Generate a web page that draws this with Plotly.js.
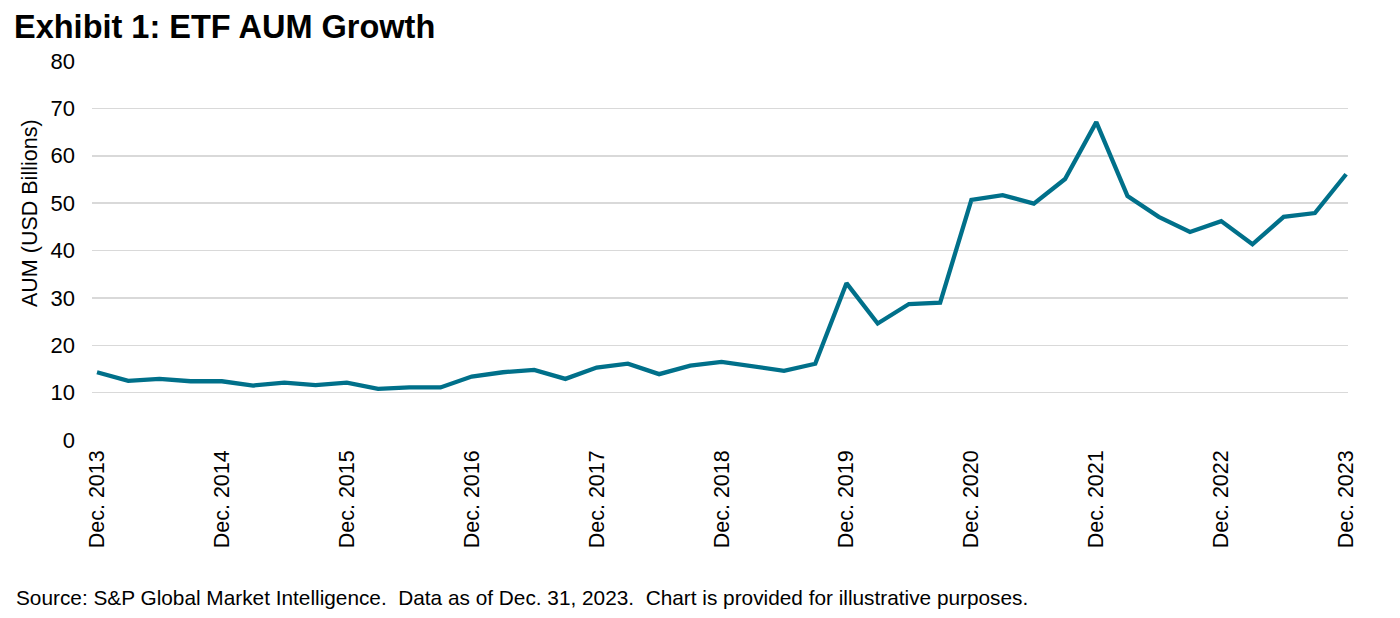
<!DOCTYPE html>
<html>
<head>
<meta charset="utf-8">
<script src="https://cdn.plot.ly/plotly-3.0.1.min.js"></script>
<style>
  html, body { margin: 0; padding: 0; background: #ffffff; }
  #chart { width: 1400px; height: 618px; }
</style>
</head>
<body>
<div id="chart"></div>
<script>
// Quarterly observation labels (Dec. 2013 through Dec. 2023)
const quarters = [
  "Dec. 2013","Mar. 2014","Jun. 2014","Sep. 2014",
  "Dec. 2014","Mar. 2015","Jun. 2015","Sep. 2015",
  "Dec. 2015","Mar. 2016","Jun. 2016","Sep. 2016",
  "Dec. 2016","Mar. 2017","Jun. 2017","Sep. 2017",
  "Dec. 2017","Mar. 2018","Jun. 2018","Sep. 2018",
  "Dec. 2018","Mar. 2019","Jun. 2019","Sep. 2019",
  "Dec. 2019","Mar. 2020","Jun. 2020","Sep. 2020",
  "Dec. 2020","Mar. 2021","Jun. 2021","Sep. 2021",
  "Dec. 2021","Mar. 2022","Jun. 2022","Sep. 2022",
  "Dec. 2022","Mar. 2023","Jun. 2023","Sep. 2023",
  "Dec. 2023"
];

// ETF AUM (USD billions)
const aum = [
  14.3, 12.5, 12.9, 12.4,
  12.4, 11.5, 12.1, 11.6,
  12.1, 10.8, 11.1, 11.1,
  13.4, 14.3, 14.8, 12.9,
  15.3, 16.1, 13.9, 15.7,
  16.5, 15.6, 14.6, 16.1,
  33.1, 24.6, 28.7, 29.0,
  50.7, 51.7, 49.9, 55.1,
  67.1, 51.5, 47.1, 43.9,
  46.2, 41.3, 47.1, 47.9,
  56.1
];

// Labelled ticks on the x axis
const xTickLabels = [
  "Dec. 2013","Dec. 2014","Dec. 2015","Dec. 2016","Dec. 2017",
  "Dec. 2018","Dec. 2019","Dec. 2020","Dec. 2021","Dec. 2022","Dec. 2023"
];

// Y axis ticks
const yTicks = [0, 10, 20, 30, 40, 50, 60, 70, 80];

const FONT = "Liberation Sans, Arial, Helvetica, sans-serif";

const trace = {
  x: quarters,
  y: aum,
  type: "scatter",
  mode: "lines",
  line: { color: "#00708A", width: 4.3 },
  hoverinfo: "x+y",
  showlegend: false
};

const layout = {
  width: 1400,
  height: 618,
  paper_bgcolor: "#ffffff",
  plot_bgcolor: "#ffffff",
  margin: { l: 92, r: 52, t: 61, b: 178 },
  font: { family: FONT, color: "#000000", size: 21 },
  title: {
    text: "<b>Exhibit 1: ETF AUM Growth</b>",
    font: { family: FONT, size: 32.5, color: "#000000" },
    x: 14 / 1400, xref: "container", xanchor: "left",
    y: 1 - 27 / 618, yref: "container", yanchor: "middle"
  },
  xaxis: {
    type: "category",
    range: [-0.16, 40.06],
    tickmode: "array",
    tickvals: xTickLabels,
    ticktext: xTickLabels,
    tickangle: -90,
    ticks: "",
    showgrid: false,
    zeroline: false,
    showline: false,
    tickfont: { family: FONT, size: 21.5, color: "#000000" },
    ticklabelstandoff: 5
  },
  yaxis: {
    range: [0, 80],
    tickmode: "array",
    tickvals: yTicks,
    ticktext: yTicks.map(String),
    showgrid: true,
    gridcolor: "#d9d9d9",
    gridwidth: 1.5,
    zeroline: false,
    showline: false,
    ticks: "",
    tickfont: { family: FONT, size: 22, color: "#000000" },
    ticklabelstandoff: 16
  },
  annotations: [
    {
      text: "AUM (USD Billions)",
      xref: "paper", yref: "paper",
      x: (30 - 92) / 1256, y: (440 - 213) / 379,
      xanchor: "center", yanchor: "middle",
      textangle: -90,
      showarrow: false,
      font: { family: FONT, size: 21.5, color: "#000000" }
    },
    {
      text: "Source: S&P Global Market Intelligence.  Data as of Dec. 31, 2023.  Chart is provided for illustrative purposes.",
      xref: "paper", yref: "paper",
      x: (14 - 92) / 1256, y: (440 - 597) / 379,
      xanchor: "left", yanchor: "middle",
      showarrow: false,
      font: { family: FONT, size: 20.8, color: "#000000" }
    }
  ]
};

Plotly.newPlot("chart", [trace], layout, { displayModeBar: false, staticPlot: true });
</script>
</body>
</html>
